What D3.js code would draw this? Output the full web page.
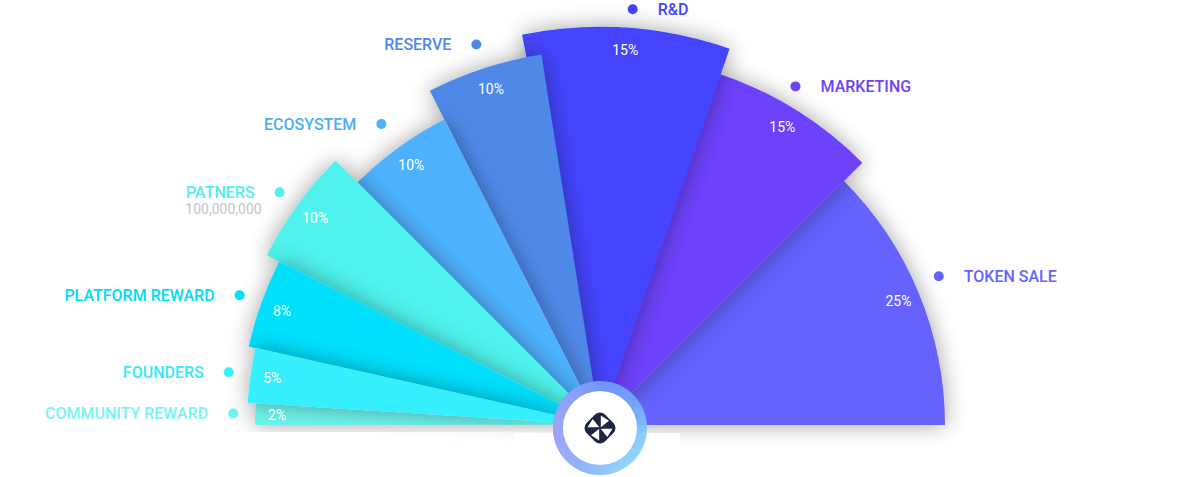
<!DOCTYPE html>
<html>
<head>
<meta charset="utf-8">
<script src="https://cdn.jsdelivr.net/npm/d3@7/dist/d3.min.js"></script>
<style>
  html, body { margin: 0; padding: 0; background: #ffffff; }
  svg { display: block; font-family: Roboto, "Noto Sans", sans-serif; }
</style>
</head>
<body>
<svg id="chart" width="1200" height="477"></svg>
<script>
// ---- data ----
const categories = ["COMMUNITY REWARD", "FOUNDERS", "PLATFORM REWARD", "PATNERS", "ECOSYSTEM", "RESERVE", "R&D", "MARKETING", "TOKEN SALE"];
const shares = [2, 5, 8, 10, 10, 10, 15, 15, 25];
const subLabels = ["", "", "", "100,000,000", "", "", "", "", ""];

// ---- style ----
const sliceColors = ["#6ef4ef", "#36effd", "#00e0fd", "#4ff2ec", "#4db1fd", "#5089e8", "#4444ff", "#6c42fb", "#6562fe"];
const labelColors = ["#78f4f4", "#36e8fb", "#00dcf8", "#52eeee", "#4aaef6", "#4f88e8", "#4545ff", "#6a45f8", "#6464ff"];
const outerRadii = [345, 353, 360, 374, 343, 375, 398, 371, 345];
const labelOffsets = [22, 22, 23, 22, 29, 25, 19, 20, 25];
const labelTurnDeg = [0, 0, 0, 0, 0, 0, 0, -1.5, -1.2];
const padStartDeg = [0, 0, 0, 0, 0, 0, -2.3, 0, 0];
const padEndDeg = [0, 0, 0, 0, 0, 0, 1.0, 0, 0];
const drawOrder = [8, 7, 6, 5, 4, 3, 2, 0, 1];

const W = 1200, H = 477, cx = 600, cy = 425;
const rad = Math.PI / 180;
const svg = d3.select("#chart");
const defs = svg.append("defs");

const f = defs.append("filter").attr("id", "shadow")
  .attr("x", "-30%").attr("y", "-30%").attr("width", "160%").attr("height", "160%");
f.append("feDropShadow").attr("dx", 0).attr("dy", 0).attr("stdDeviation", 11)
  .attr("flood-color", "#000").attr("flood-opacity", 0.36);

const rg = defs.append("linearGradient").attr("id", "ringGrad")
  .attr("x1", "0").attr("y1", "0").attr("x2", "1").attr("y2", "1");
rg.append("stop").attr("offset", "0").attr("stop-color", "#4d6cf6");
rg.append("stop").attr("offset", "0.5").attr("stop-color", "#6f9ff9");
rg.append("stop").attr("offset", "1").attr("stop-color", "#90e8fb");

const lg = defs.append("linearGradient").attr("id", "ringGrad2")
  .attr("x1", "0").attr("y1", "0").attr("x2", "1").attr("y2", "0");
lg.append("stop").attr("offset", "0").attr("stop-color", "#a8a6f8").attr("stop-opacity", 0.9);
lg.append("stop").attr("offset", "0.5").attr("stop-color", "#a0c0fa").attr("stop-opacity", 0.3);
lg.append("stop").attr("offset", "1").attr("stop-color", "#8ee6fb").attr("stop-opacity", 0.0);

const pie = d3.pie().value(d => d).sort(null)
  .startAngle(-Math.PI / 2).endAngle(Math.PI / 2);
const arcs = pie(shares).map((a, i) => ({ ...a, i }));
const padded = d => ({ ...d, startAngle: d.startAngle + padStartDeg[d.i] * rad, endAngle: d.endAngle + padEndDeg[d.i] * rad });
const turned = d => ({ ...d, startAngle: d.startAngle + labelTurnDeg[d.i] * rad, endAngle: d.endAngle + labelTurnDeg[d.i] * rad });

const g = svg.append("g").attr("transform", `translate(${cx},${cy})`);

const arcGen = i => d3.arc().innerRadius(0).outerRadius(outerRadii[i]);

g.selectAll("path.slice")
  .data(drawOrder.map(i => padded(arcs[i])))
  .join("path")
  .attr("class", "slice")
  .attr("d", d => arcGen(d.i)(d))
  .attr("fill", d => sliceColors[d.i])
  .attr("filter", "url(#shadow)");

// white block under the hub
svg.append("rect").attr("x", 515).attr("y", 433).attr("width", 165).attr("height", 50).attr("fill", "#fff");

// percentage labels
g.selectAll("text.pct")
  .data(arcs.map(padded))
  .join("text")
  .attr("class", "pct")
  .attr("transform", d => {
    const r = outerRadii[d.i] - 22;
    const [x, y] = d3.arc().innerRadius(r).outerRadius(r).centroid(d);
    return `translate(${x},${y})`;
  })
  .attr("text-anchor", "middle")
  .attr("dominant-baseline", "central")
  .attr("fill", "#ffffff")
  .attr("font-size", 14)
  .text(d => d.data + "%");

// outside labels
const lab = g.selectAll("g.lab")
  .data(arcs.map(turned))
  .join("g")
  .attr("class", "lab")
  .attr("transform", d => {
    const r = outerRadii[d.i] + labelOffsets[d.i];
    const [x, y] = d3.arc().innerRadius(r).outerRadius(r).centroid(d);
    return `translate(${x},${y})`;
  });
lab.append("circle").attr("r", 5).attr("fill", d => sliceColors[d.i]);
lab.append("text")
  .attr("x", d => ((d.startAngle + d.endAngle) / 2 < 0 ? -25 : 25))
  .attr("text-anchor", d => ((d.startAngle + d.endAngle) / 2 < 0 ? "end" : "start"))
  .attr("dominant-baseline", "central")
  .attr("fill", d => labelColors[d.i])
  .attr("font-size", 16)
  .attr("font-weight", 500)
  .text(d => categories[d.i]);
lab.filter(d => subLabels[d.i])
  .append("text")
  .attr("x", -18)
  .attr("y", 17)
  .attr("text-anchor", "end")
  .attr("dominant-baseline", "central")
  .attr("fill", "#c4c4c4")
  .attr("font-size", 14)
  .text(d => subLabels[d.i]);

// hub
const hub = svg.append("g").attr("transform", `translate(${cx},428)`);
hub.append("circle").attr("r", 47).attr("fill", "url(#ringGrad)").attr("opacity", 0.92);
hub.append("circle").attr("r", 47).attr("fill", "url(#ringGrad2)");
hub.append("circle").attr("r", 37).attr("fill", "#ffffff");
hub.append("rect").attr("x", -13).attr("y", -13).attr("width", 26).attr("height", 26)
  .attr("rx", 7).attr("fill", "#1b2442").attr("transform", "rotate(45)");
const blades = hub.append("g").attr("transform", "rotate(20)");
[0, 90, 180, 270].forEach(a => {
  blades.append("path")
    .attr("d", "M0.5,-1 L-3.5,-12 L6,-10 L3,-5 Z")
    .attr("fill", "#ffffff")
    .attr("transform", `rotate(${a})`);
});
</script>
</body>
</html>
